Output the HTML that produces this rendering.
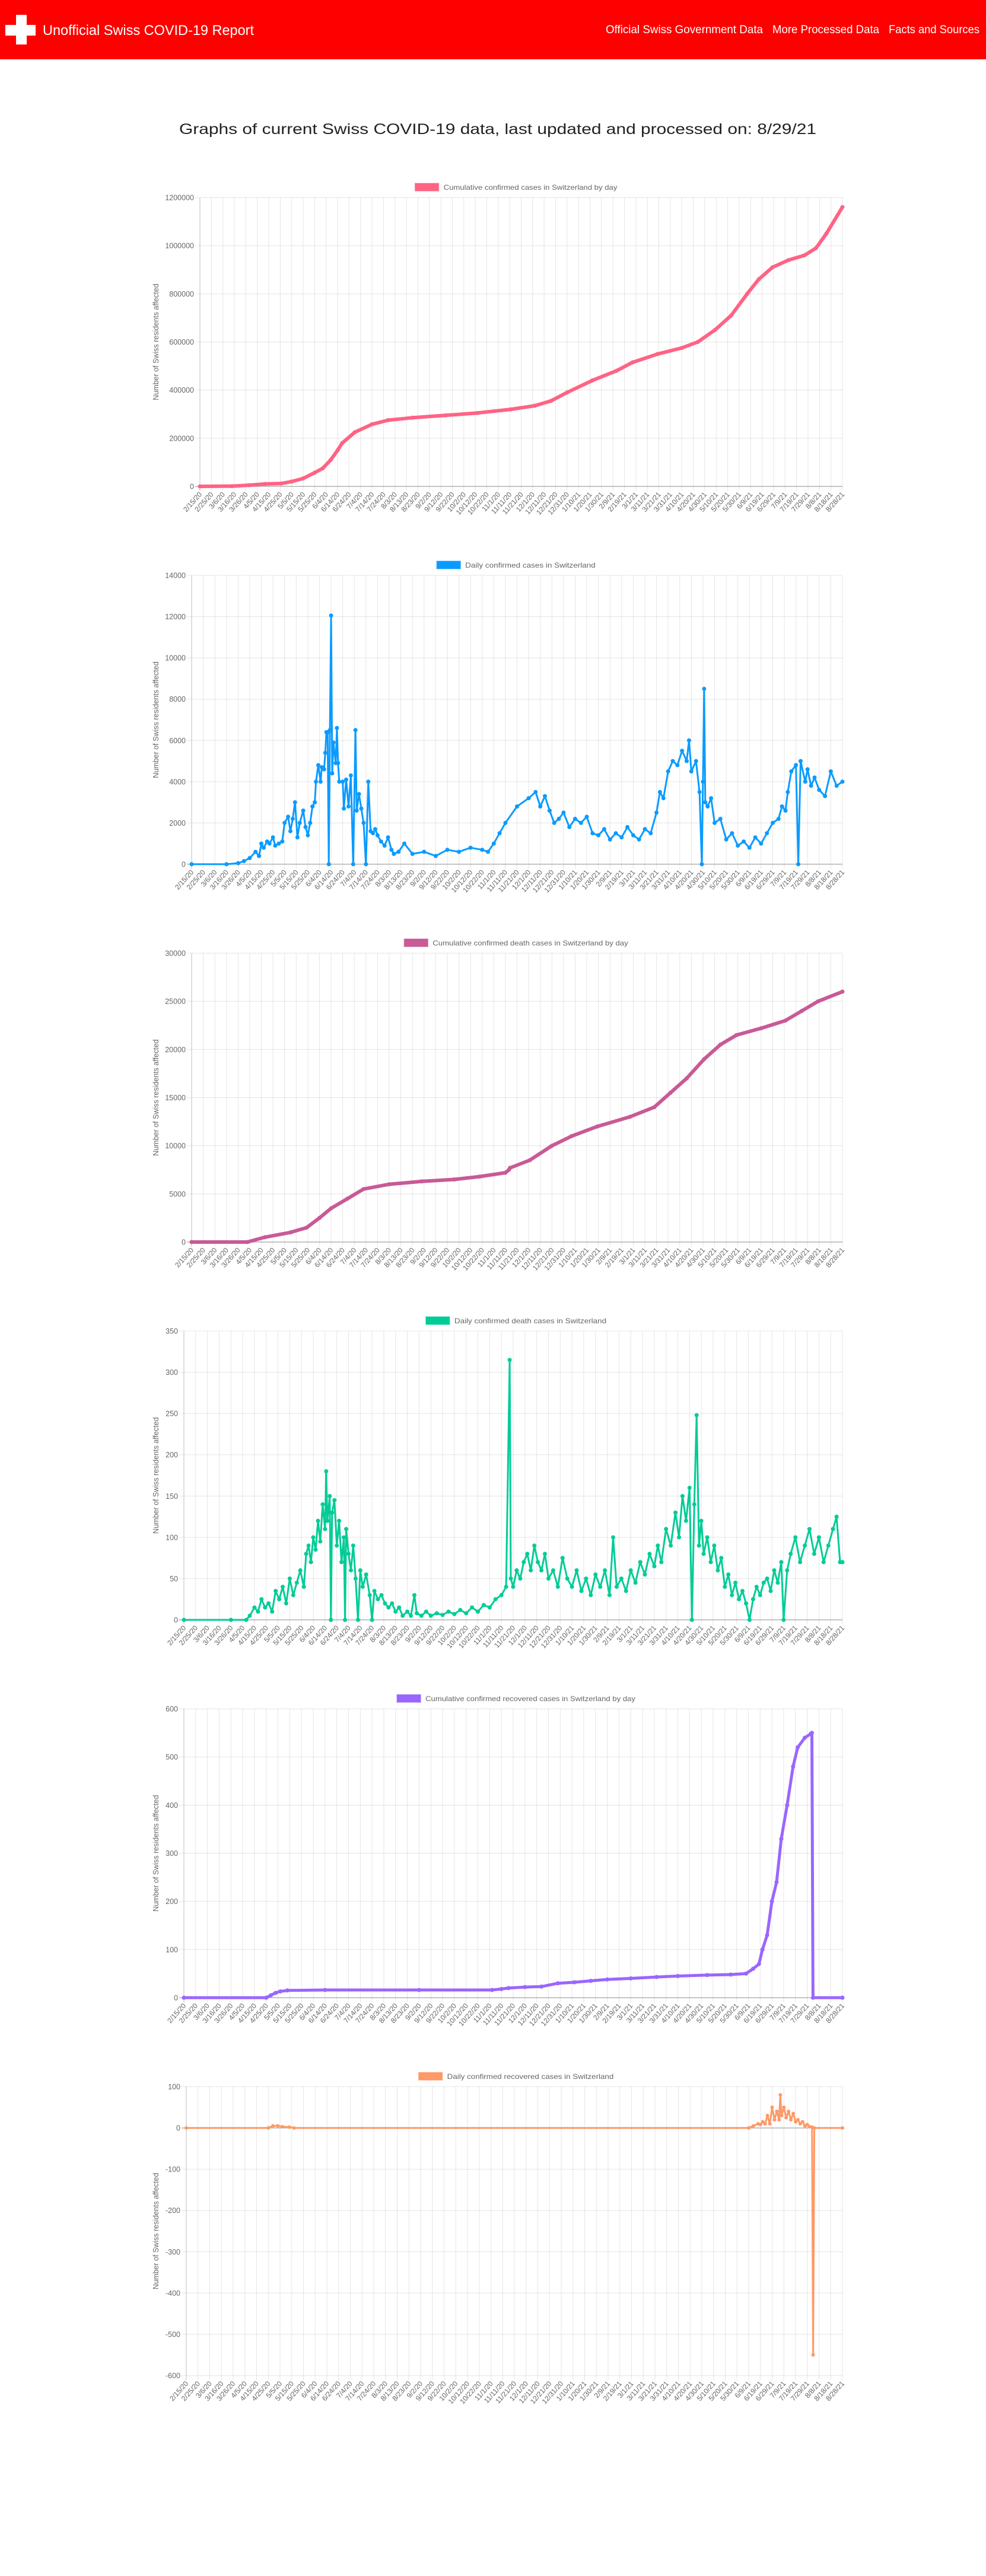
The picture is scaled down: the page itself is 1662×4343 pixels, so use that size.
<!DOCTYPE html>
<html><head><meta charset="utf-8"><title>Unofficial Swiss COVID-19 Report</title>
<style>html,body{margin:0;padding:0;background:#fff}svg{display:block;font-family:"Liberation Sans",sans-serif}</style>
</head><body>
<svg id="page" width="1662" height="4343" viewBox="0 0 1662 4343" xmlns="http://www.w3.org/2000/svg">
<g>
<rect x="0" y="0" width="1662" height="100" fill="#ff0000"/>
<g><rect x="27" y="25" width="18" height="50" fill="#fff"/><rect x="9" y="42" width="51" height="18" fill="#fff"/></g>
<text x="72" y="59" font-size="24" fill="#fff" textLength="356" lengthAdjust="spacingAndGlyphs">Unofficial Swiss COVID-19 Report</text>
<text x="1021" y="56" font-size="19" fill="#fff" textLength="265" lengthAdjust="spacingAndGlyphs">Official Swiss Government Data</text>
<text x="1302" y="56" font-size="19" fill="#fff" textLength="180" lengthAdjust="spacingAndGlyphs">More Processed Data</text>
<text x="1498" y="56" font-size="19" fill="#fff" textLength="153" lengthAdjust="spacingAndGlyphs">Facts and Sources</text>
</g>
<text x="302" y="226" font-size="25" fill="#222" textLength="1074" lengthAdjust="spacingAndGlyphs">Graphs of current Swiss COVID-19 data, last updated and processed on: 8/29/21</text>
<g id="charts"></g>
</svg>
<script>
// ---- data (day offset from 2/15/20, value) ----
const casesDays=[0,28,43,57,71,80,90,100,107,114,120,124,135,150,164,185,214,242,271,292,306,320,342,363,377,399,420,434,449,463,477,487,499,513,527,537,546,560];
const casesVals=[0,1000,5000,10000,12000,20000,33000,57000,75000,110000,150000,180000,225000,258000,275000,285000,295000,305000,320000,335000,355000,390000,440000,480000,515000,550000,575000,600000,650000,710000,800000,860000,910000,940000,960000,990000,1050000,1160000];

const dailyDays=[0,30,40,45,50,55,58,60,62,65,67,70,72,75,78,80,83,85,87,89,91,93,96,98,100,102,104,106,107,109,111,112,114,115,116,117,118,119,120,121,122,124,125,126,127,130,131,133,135,137,139,141,142,144,146,148,150,152,154,156,158,160,163,166,169,172,174,178,183,190,200,210,220,230,240,250,255,260,265,270,280,290,296,300,304,308,312,316,320,325,330,335,340,345,350,355,360,365,370,375,380,385,390,395,400,403,406,410,414,418,422,426,428,430,434,437,439,440,441,442,444,447,450,455,460,465,470,475,480,485,490,495,500,505,508,511,513,516,520,522,524,528,530,533,536,540,545,550,555,560];
const dailyVals=[0,0,50,150,300,600,400,1000,800,1100,1000,1300,900,1000,1100,2000,2300,1600,2200,3000,1300,2000,2600,1800,1400,2000,2800,3000,4000,4800,4000,4700,4600,5400,6400,6400,0,6500,12050,4400,5900,4900,6600,4900,4000,4000,2700,4100,2800,4300,0,6500,2600,3400,2700,2000,0,4000,1600,1500,1700,1400,1100,900,1300,700,500,600,1000,500,600,400,700,600,800,700,600,1000,1500,2000,2800,3200,3500,2800,3300,2600,2000,2200,2500,1800,2200,2000,2300,1500,1400,1700,1200,1500,1300,1800,1400,1200,1700,1500,2500,3500,3200,4500,5000,4800,5500,5000,6000,4500,5000,3500,0,4000,8500,3000,2800,3200,2000,2200,1200,1500,900,1100,800,1300,1000,1500,2000,2200,2800,2600,3500,4500,4800,0,5000,4000,4600,3800,4200,3600,3300,4500,3800,4000];

const deathsDays=[0,48,63,85,99,110,120,134,148,170,198,226,248,270,273,274,291,310,327,349,377,398,412,426,441,455,469,490,511,525,539,560];
const deathsVals=[0,0,500,1000,1500,2500,3500,4500,5500,6000,6300,6500,6800,7200,7500,7700,8500,10000,11000,12000,13000,14000,15500,17000,19000,20500,21500,22200,23000,24000,25000,26000];

const dDeathDays=[0,40,53,56,60,63,66,69,72,75,78,81,84,87,90,93,96,99,102,104,106,108,110,112,114,116,118,120,121,122,124,125,126,128,130,132,134,136,137,138,140,142,144,146,148,150,152,155,158,160,162,165,168,171,174,177,180,183,186,190,193,196,198,202,206,210,215,220,225,230,235,240,245,250,255,260,265,270,274,277,278,280,283,286,289,292,295,298,301,304,307,310,314,318,322,326,330,334,338,342,346,350,354,358,362,365,368,372,376,380,384,388,392,396,400,403,406,410,414,418,421,424,427,430,432,434,436,438,440,442,445,448,451,454,457,460,463,466,469,472,475,478,481,484,487,490,493,496,499,502,505,508,510,513,516,520,524,528,532,536,540,544,548,552,555,558,560];
const dDeathVals=[0,0,0,5,15,10,25,15,20,10,35,25,40,20,50,30,45,60,40,80,90,70,100,85,120,95,140,110,180,120,150,0,130,145,90,120,70,100,0,110,80,60,90,50,0,60,40,55,30,0,35,25,30,20,15,20,10,15,5,10,5,30,8,5,10,5,8,6,10,7,12,8,15,10,18,15,25,30,40,315,50,40,60,50,70,80,60,90,70,60,80,50,60,40,75,50,40,60,35,50,30,55,40,60,30,100,40,50,35,60,45,70,55,80,65,90,70,110,90,130,100,150,120,160,0,140,248,90,120,80,100,70,90,60,75,40,55,30,45,25,35,20,0,25,40,30,45,50,35,60,45,70,0,60,80,100,70,90,110,80,100,70,90,110,125,70,70];

const recDays=[0,70,74,78,82,88,120,200,262,270,276,290,304,318,332,346,360,380,402,420,445,465,478,484,489,492,496,500,504,508,513,518,522,528,533,534,535,560];
const recVals=[0,0,5,10,13,15,16,16,16,18,20,22,23,30,32,35,38,40,43,45,47,48,50,60,70,100,130,200,240,330,400,480,520,540,548,550,0,0];

const dRecDays=[0,70,74,78,82,88,92,480,484,488,490,492,494,496,498,500,502,504,506,507,508,510,512,514,516,518,520,522,524,526,528,530,532,534,535,536,560];
const dRecVals=[0,0,5,5,3,2,0,0,5,10,8,15,10,30,10,50,20,40,20,80,30,50,25,40,20,35,15,20,10,15,5,8,3,2,-550,0,0];

// ---- tick labels ----
const xLabels=[];
for(let i=0;i<57;i++){const d=new Date(2020,1,15+10*i);xLabels.push((d.getMonth()+1)+'/'+d.getDate()+'/'+String(d.getFullYear()).slice(2));}
const yTicks1=[0,200000,400000,600000,800000,1000000,1200000];
const yTicks2=[0,2000,4000,6000,8000,10000,12000,14000];
const yTicks3=[0,5000,10000,15000,20000,25000,30000];
const yTicks4=[0,50,100,150,200,250,300,350];
const yTicks5=[0,100,200,300,400,500,600];
const yTicks6=[-600,-500,-400,-300,-200,-100,0,100];

const NS='http://www.w3.org/2000/svg';
function mk(tag,attrs,parent){const e=document.createElementNS(NS,tag);for(const k in attrs)e.setAttribute(k,attrs[k]);parent.appendChild(e);return e;}

const charts=[
 {name:'cumulative-cases-chart',legend:'Cumulative confirmed cases in Switzerland by day',color:'#ff6384',left:337,top:333,ticks:yTicks1,days:casesDays,vals:casesVals,lw:6,r:3.5},
 {name:'daily-cases-chart',legend:'Daily confirmed cases in Switzerland',color:'#0a9bff',left:323,top:970,ticks:yTicks2,days:dailyDays,vals:dailyVals,lw:3,r:3.5},
 {name:'cumulative-deaths-chart',legend:'Cumulative confirmed death cases in Switzerland by day',color:'#c85a96',left:323,top:1607,ticks:yTicks3,days:deathsDays,vals:deathsVals,lw:6,r:3.5},
 {name:'daily-deaths-chart',legend:'Daily confirmed death cases in Switzerland',color:'#00cc96',left:310,top:2244,ticks:yTicks4,days:dDeathDays,vals:dDeathVals,lw:3,r:3.5},
 {name:'cumulative-recovered-chart',legend:'Cumulative confirmed recovered cases in Switzerland by day',color:'#9966ff',left:310,top:2881,ticks:yTicks5,days:recDays,vals:recVals,lw:5,r:3.5},
 {name:'daily-recovered-chart',legend:'Daily confirmed recovered cases in Switzerland',color:'#ff9966',left:314,top:3518,ticks:yTicks6,days:dRecDays,vals:dRecVals,lw:3,r:3}
];
const root=document.getElementById('charts');
charts.forEach(c=>{
 const g=mk('g',{},root);
 
 
 const L=c.left,R=1420,T=c.top,B=c.top+487;
 const mn=c.ticks[0],mx=c.ticks[c.ticks.length-1];
 const xs=d=>L+d/560*(R-L);
 const ys=v=>T+(mx-v)/(mx-mn)*(B-T);
 const grid=mk('g',{},g);
 
 
 xLabels.forEach((lab,i)=>{
  const x=xs(i*10);
  mk('line',{x1:x,y1:T,x2:x,y2:B+8,stroke:i==0?'rgba(0,0,0,0.25)':'rgba(0,0,0,0.1)','stroke-width':1},grid);
  const t=mk('text',{x:x+4,y:B+14,'font-size':12,fill:'#666','text-anchor':'end',transform:'rotate(-48 '+(x+4)+' '+(B+14)+')'},g);
  t.textContent=lab;
  
  
 });
 c.ticks.forEach(v=>{
  const y=ys(v);
  mk('line',{x1:L-8,y1:y,x2:R,y2:y,stroke:v==0?'rgba(0,0,0,0.3)':'rgba(0,0,0,0.1)','stroke-width':v==0?1.5:1},grid);
  const t=mk('text',{x:L-10,y:y+4.5,'font-size':12.5,fill:'#666','text-anchor':'end'},g);
  t.textContent=String(v);
  
  
 });
 const cy=(T+B)/2;
 const yt=mk('text',{x:267,y:cy,'font-size':12.5,fill:'#666','text-anchor':'middle',transform:'rotate(-90 267 '+cy+')'},g);
 yt.textContent='Number of Swiss residents affected';
 
 
 // legend
 const lg=mk('g',{},g);
 
 
 const tw=c.legend.length*6.1;
 const lx=870-(40+8+tw)/2, ly=T-24;
 mk('rect',{x:lx,y:ly,width:40,height:13,fill:c.color,stroke:c.color,'stroke-opacity':0.5,'stroke-width':1.5},lg);
 const lt=mk('text',{x:lx+48,y:ly+11,'font-size':12,fill:'#666',textLength:tw,lengthAdjust:'spacingAndGlyphs'},lg);
 lt.textContent=c.legend;
 // series
 let d='';
 c.days.forEach((dy,i)=>{d+=(i?'L':'M')+xs(dy).toFixed(1)+' '+ys(c.vals[i]).toFixed(1);});
 const p=mk('path',{d:d,fill:'none',stroke:c.color,'stroke-width':c.lw,'stroke-linejoin':'round','stroke-linecap':'round'},g);
 
 
 const pts=mk('g',{fill:c.color},g);
 
 
 c.days.forEach((dy,i)=>{
  const pt=mk('circle',{cx:xs(dy).toFixed(1),cy:ys(c.vals[i]).toFixed(1),r:c.r},pts);
  
  
 });
});
</script>
</body></html>
